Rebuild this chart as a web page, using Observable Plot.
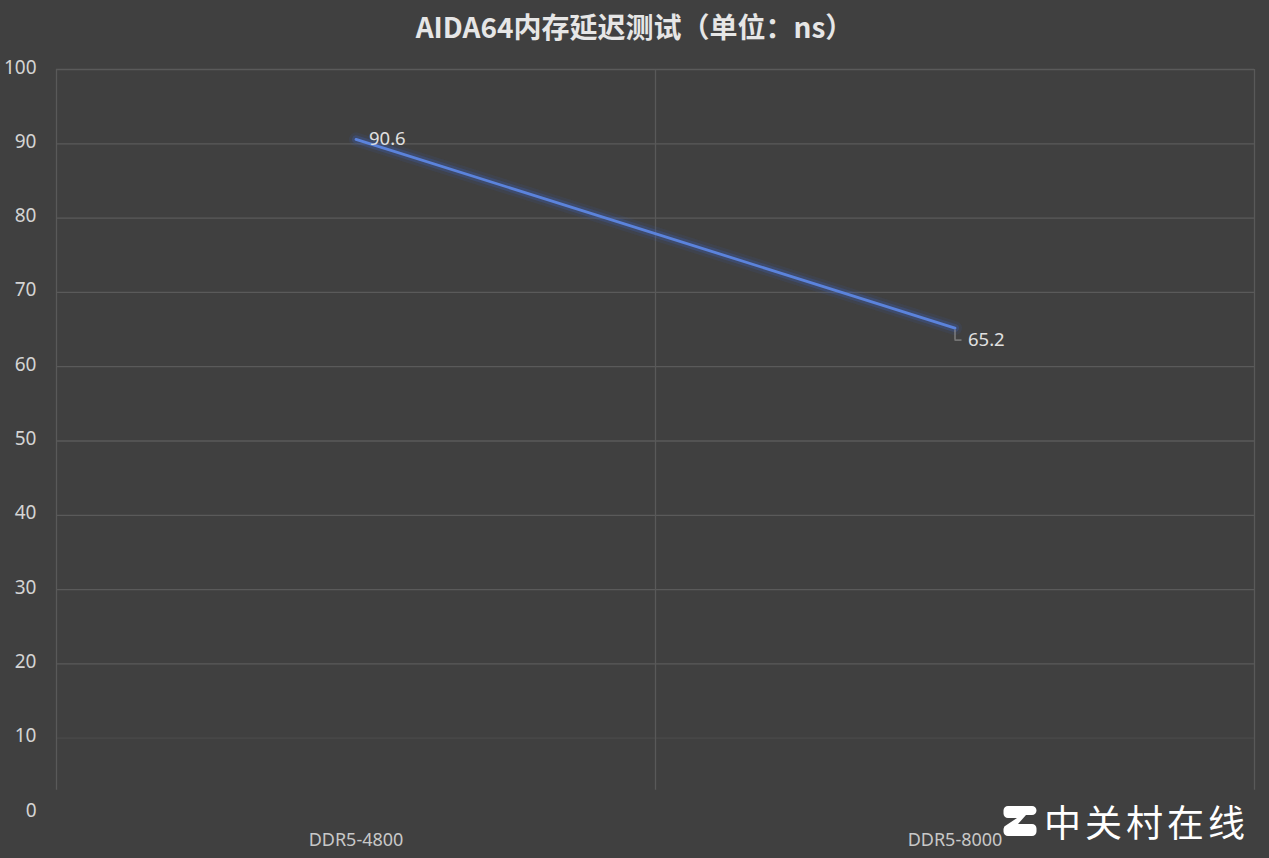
<!DOCTYPE html>
<html>
<head>
<meta charset="utf-8">
<script src="https://cdn.jsdelivr.net/npm/d3@7"></script>
<script src="https://cdn.jsdelivr.net/npm/@observablehq/plot@0.6"></script>
<style>
  html, body { margin: 0; padding: 0; background: #404040; }
  #wrap { position: relative; width: 1269px; height: 858px; background: #404040; overflow: hidden; }
  #title { position: absolute; left: 0; top: 6px; width: 1269px; text-align: center;
    font-family: "Noto Sans CJK SC", "Noto Sans", sans-serif; font-weight: 700; font-size: 28px;
    color: #e6e6e6; line-height: 40px; }
  #chart { position: absolute; left: 0; top: 55px; }
  #brand { position: absolute; left: 1002px; top: 800px; display: flex; align-items: center;
    font-family: "Noto Sans CJK SC", sans-serif; font-size: 37px; color: #ffffff; letter-spacing: 4px; line-height: 42px; }
  #brand svg { margin-right: 6px; }
</style>
</head>
<body>
<div id="wrap">
  <div id="title">AIDA64内存延迟测试（单位：ns）</div>
  <div id="chart"></div>
  <div id="brand"><svg width="36" height="34" viewBox="0 0 36 34"><path d="M6 2 H30 a4.5 4.5 0 0 1 0 9 H24 L16 20 H30 a4.5 4.5 0 0 1 4.5 4.5 V27.5 a4.5 4.5 0 0 1 -4.5 4.5 H6 a4.5 4.5 0 0 1 -4.5 -4.5 V25 a4.5 4.5 0 0 1 3 -4 L15 14 H6 a4.5 4.5 0 0 1 -4.5 -4.5 V6.5 a4.5 4.5 0 0 1 4.5 -4.5 Z" fill="#fff"/></svg><span>中关村在线</span></div>
</div>
<script>
const categories = ["DDR5-4800", "DDR5-8000"];
const latency = [90.6, 65.2];
const yTicks = [0, 10, 20, 30, 40, 50, 60, 70, 80, 90, 100];

const data = categories.map((c, i) => ({ pos: i + 0.5, cat: c, value: latency[i] }));
const bounds = d3.range(categories.length + 1);
const gridY = yTicks.filter(t => t > 0);

const font = "'Noto Sans', 'Open Sans', sans-serif";

const plot = Plot.plot({
  width: 1269,
  height: 803,
  marginTop: 14,
  marginBottom: 46,
  marginLeft: 56,
  marginRight: 15,
  style: { background: "transparent", fontFamily: font, fontSize: "16px", color: "#d4d4d4" },
  x: { domain: [0, categories.length], axis: null },
  y: { domain: [0, 100], axis: null },
  marks: [
    Plot.ruleY(gridY, { stroke: d => d === 10 ? "#4a4a4a" : "#5a5a5a", strokeWidth: 1.3 }),
    Plot.ruleX(bounds, { y1: 100, y2: 3, stroke: "#595959", strokeWidth: 1.3 }),
    Plot.text(yTicks, { x: 0, y: d => d, text: d => String(d), textAnchor: "end", dx: -20, dy: -2, fill: "#d4d4d4", fontSize: 19 }),
    Plot.text(data, { x: "pos", y: 0, text: "cat", dy: 28, fill: "#c8c8c8", fontSize: 18 }),
    // glow
    Plot.line(data, { x: "pos", y: "value", stroke: "#3a5fc0", strokeWidth: 14, strokeOpacity: 0.1, strokeLinecap: "round" }),
    Plot.line(data, { x: "pos", y: "value", stroke: "#3d62c8", strokeWidth: 8, strokeOpacity: 0.25, strokeLinecap: "round" }),
    Plot.line(data, { x: "pos", y: "value", stroke: "#5b83dc", strokeWidth: 2.8 }),
    // leader for second label
    Plot.ruleX(data.slice(1), { x: "pos", y1: "value", y2: "value", insetTop: 2, insetBottom: -12, stroke: "#9a9a9a", strokeWidth: 1 }),
    Plot.ruleY(data.slice(1), { y: "value", x1: "pos", x2: "pos", insetLeft: 0, insetRight: -7, dy: 12, stroke: "#9a9a9a", strokeWidth: 1 }),
    Plot.text(data.slice(0, 1), { x: "pos", y: "value", text: d => d.value.toFixed(1), textAnchor: "start", dx: 13, dy: 0, fill: "#e0e0e0", fontSize: 18.5 }),
    Plot.text(data.slice(1), { x: "pos", y: "value", text: d => d.value.toFixed(1), textAnchor: "start", dx: 13, dy: 12, fill: "#e0e0e0", fontSize: 18.5 })
  ]
});
document.getElementById("chart").appendChild(plot);
</script>
</body>
</html>
